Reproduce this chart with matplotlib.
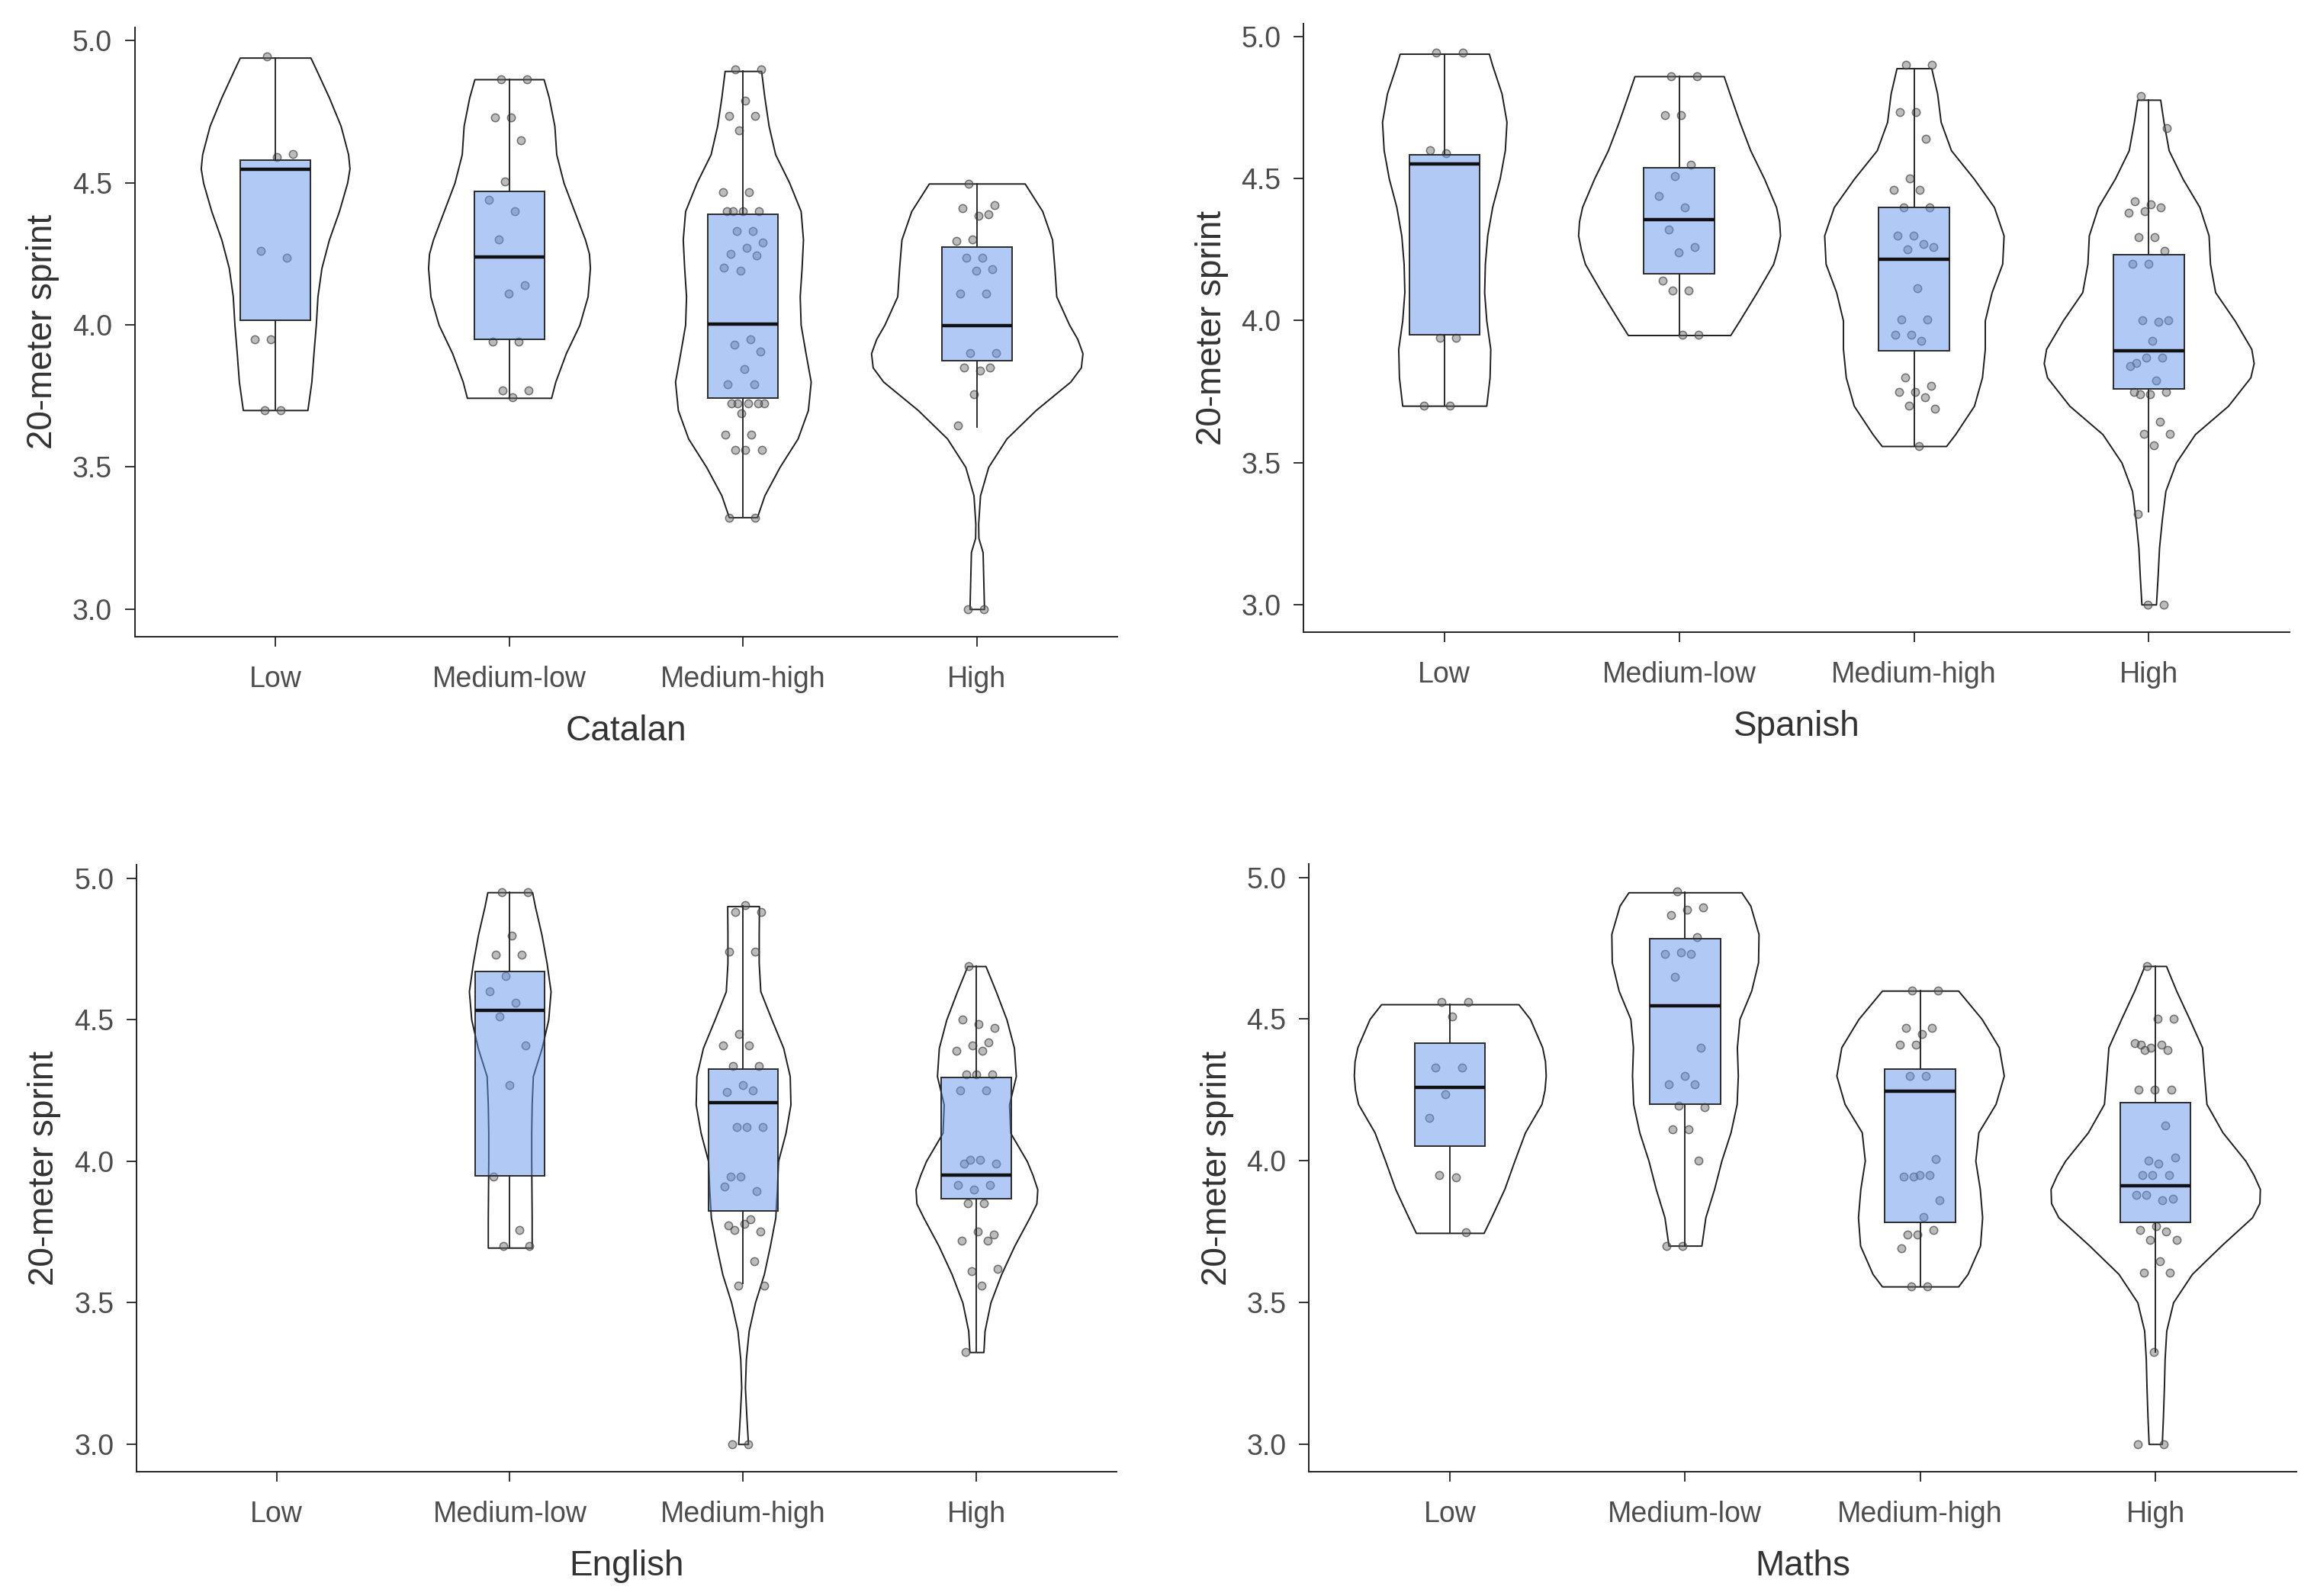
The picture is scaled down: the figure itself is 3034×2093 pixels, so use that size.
import numpy as np
import matplotlib
matplotlib.use("Agg")
import matplotlib.pyplot as plt

plt.rcParams['font.family'] = ['Liberation Sans', 'DejaVu Sans']

CATEGORIES = ["Low", "Medium-low", "Medium-high", "High"]
SUBJECTS = ["Catalan", "Spanish", "English", "Maths"]

# ---- Catalan ----
catalan_points = [
    [4.945, 4.60, 4.59, 4.26, 4.235, 3.95, 3.95, 3.70, 3.70],
    [4.864, 4.864, 4.73, 4.73, 4.65, 4.505, 4.44, 4.40, 4.30, 4.14, 4.11, 3.94, 3.94, 3.77, 3.77, 3.745],
    [4.90, 4.90, 4.79, 4.735, 4.735, 4.685, 4.466, 4.466, 4.40, 4.40, 4.40, 4.40, 4.33, 4.33, 4.29, 4.27,
     4.25, 4.245, 4.19, 4.20, 3.95, 3.93, 3.905, 3.845, 3.79, 3.79, 3.725, 3.725, 3.725, 3.725, 3.725,
     3.69, 3.614, 3.614, 3.56, 3.56, 3.56, 3.32, 3.32],
    [4.497, 4.42, 4.385, 4.41, 4.39, 4.30, 4.295, 4.235, 4.235, 4.195, 4.19, 4.11, 4.11, 3.90, 3.90,
     3.84, 3.85, 3.85, 3.755, 3.645, 3.0, 3.0],
]
# whislo, q1, median, q3, whishi
catalan_box = [
    [3.70, 4.016, 4.547, 4.58, 4.94],
    [3.743, 3.949, 4.240, 4.469, 4.864],
    [3.323, 3.743, 4.002, 4.39, 4.893],
    [3.64, 3.875, 3.998, 4.275, 4.497],
]
catalan_violin_y = [
    [3.70, 3.8, 3.9, 4.0, 4.1, 4.2, 4.3, 4.4, 4.5, 4.55, 4.6, 4.7, 4.8, 4.9, 4.94],
    [3.743, 3.8, 3.9, 4.0, 4.1, 4.2, 4.25, 4.3, 4.4, 4.5, 4.6, 4.7, 4.8, 4.864],
    [3.323, 3.4, 3.5, 3.6, 3.7, 3.8, 3.9, 4.0, 4.1, 4.2, 4.3, 4.4, 4.5, 4.6, 4.7, 4.8, 4.893],
    [3.0, 3.1, 3.2, 3.25, 3.3, 3.4, 3.5, 3.6, 3.7, 3.8, 3.85, 3.9, 3.95, 4.0, 4.1, 4.2, 4.3, 4.4, 4.497],
]
catalan_violin_w = [
    [0.138, 0.155, 0.164, 0.174, 0.181, 0.198, 0.230, 0.273, 0.308, 0.318, 0.312, 0.280, 0.230, 0.174, 0.151],
    [0.180, 0.198, 0.243, 0.301, 0.336, 0.346, 0.342, 0.325, 0.279, 0.233, 0.202, 0.194, 0.170, 0.148],
    [0.060, 0.092, 0.157, 0.234, 0.278, 0.290, 0.268, 0.247, 0.243, 0.251, 0.257, 0.247, 0.198, 0.138,
     0.110, 0.092, 0.078],
    [0.031, 0.028, 0.025, 0.007, 0.006, 0.014, 0.049, 0.127, 0.252, 0.400, 0.445, 0.452, 0.430, 0.395,
     0.340, 0.332, 0.322, 0.280, 0.205],
]

# ---- Spanish ----
spanish_points = [
    [4.945, 4.945, 4.59, 4.60, 3.94, 3.94, 3.70, 3.70],
    [4.861, 4.861, 4.725, 4.725, 4.55, 4.51, 4.44, 4.40, 4.32, 4.26, 4.24, 4.14, 4.105, 4.105, 3.95, 3.95],
    [4.90, 4.90, 4.735, 4.735, 4.64, 4.50, 4.46, 4.46, 4.40, 4.40, 4.30, 4.30, 4.27, 4.25, 4.26, 4.115,
     4.005, 4.005, 3.95, 3.95, 3.93, 3.80, 3.77, 3.75, 3.75, 3.73, 3.70, 3.69, 3.558],
    [4.79, 4.677, 4.41, 4.42, 4.40, 4.385, 4.38, 4.295, 4.295, 4.245, 4.20, 4.20, 3.995, 4.0, 4.0, 3.93,
     3.85, 3.87, 3.87, 3.84, 3.79, 3.74, 3.75, 3.74, 3.75, 3.645, 3.60, 3.60, 3.56, 3.32, 3.0, 3.0],
]
spanish_box = [
    [3.70, 3.949, 4.552, 4.584, 4.94],
    [3.949, 4.164, 4.355, 4.538, 4.861],
    [3.558, 3.893, 4.216, 4.40, 4.889],
    [3.326, 3.759, 3.895, 4.233, 4.778],
]
spanish_violin_y = [
    [3.70, 3.8, 3.9, 4.0, 4.1, 4.2, 4.3, 4.4, 4.5, 4.6, 4.7, 4.8, 4.9, 4.94],
    [3.949, 4.0, 4.1, 4.2, 4.25, 4.3, 4.35, 4.4, 4.5, 4.6, 4.7, 4.8, 4.861],
    [3.558, 3.6, 3.7, 3.8, 3.9, 4.0, 4.1, 4.2, 4.3, 4.4, 4.5, 4.6, 4.7, 4.8, 4.889],
    [3.0, 3.1, 3.2, 3.3, 3.4, 3.5, 3.6, 3.7, 3.8, 3.85, 3.9, 4.0, 4.1, 4.2, 4.3, 4.4, 4.5, 4.6, 4.7, 4.778],
]
spanish_violin_w = [
    [0.179, 0.193, 0.196, 0.179, 0.170, 0.173, 0.183, 0.204, 0.236, 0.258, 0.265, 0.244, 0.204, 0.190],
    [0.218, 0.257, 0.331, 0.401, 0.418, 0.430, 0.426, 0.413, 0.362, 0.303, 0.257, 0.215, 0.190],
    [0.137, 0.176, 0.256, 0.290, 0.302, 0.302, 0.331, 0.376, 0.382, 0.341, 0.255, 0.158, 0.114, 0.099, 0.074],
    [0.031, 0.038, 0.044, 0.056, 0.071, 0.116, 0.197, 0.338, 0.433, 0.447, 0.437, 0.366, 0.283, 0.261,
     0.255, 0.216, 0.144, 0.085, 0.063, 0.049],
]

# ---- English (no "Low" group) ----
english_points = [
    [],
    [4.95, 4.95, 4.797, 4.73, 4.73, 4.655, 4.60, 4.56, 4.51, 4.41, 4.27, 3.945, 3.756, 3.70, 3.70],
    [4.88, 4.88, 4.905, 4.74, 4.74, 4.45, 4.41, 4.41, 4.335, 4.335, 4.27, 4.245, 4.25, 4.12, 4.12, 4.12,
     3.944, 3.895, 3.944, 3.91, 3.795, 3.756, 3.75, 3.777, 3.774, 3.645, 3.56, 3.56, 3.0, 3.0],
    [4.69, 4.47, 4.485, 4.50, 4.42, 4.41, 4.39, 4.39, 4.306, 4.306, 4.306, 4.25, 4.25, 4.005, 3.99, 4.005,
     3.99, 3.915, 3.90, 3.915, 3.85, 3.85, 3.74, 3.75, 3.72, 3.72, 3.61, 3.62, 3.56, 3.325],
]
english_box = [
    None,
    [3.694, 3.948, 4.533, 4.669, 4.95],
    [3.568, 3.823, 4.206, 4.325, 4.901],
    [3.325, 3.868, 3.951, 4.295, 4.689],
]
english_violin_y = [
    [],
    [3.694, 3.8, 3.9, 4.0, 4.1, 4.2, 4.3, 4.4, 4.5, 4.6, 4.7, 4.8, 4.9, 4.95],
    [3.0, 3.1, 3.2, 3.3, 3.4, 3.5, 3.6, 3.7, 3.8, 3.9, 4.0, 4.1, 4.2, 4.3, 4.4, 4.5, 4.6, 4.7, 4.8, 4.901],
    [3.325, 3.4, 3.5, 3.6, 3.7, 3.8, 3.85, 3.9, 3.95, 4.0, 4.1, 4.2, 4.3, 4.4, 4.5, 4.6, 4.689],
]
english_violin_w = [
    [],
    [0.094, 0.094, 0.093, 0.092, 0.092, 0.094, 0.099, 0.137, 0.165, 0.175, 0.158, 0.136, 0.108, 0.096],
    [0.021, 0.014, 0.008, 0.012, 0.024, 0.051, 0.089, 0.115, 0.138, 0.145, 0.150, 0.182, 0.203, 0.200,
     0.172, 0.122, 0.074, 0.067, 0.067, 0.068],
    [0.030, 0.035, 0.060, 0.106, 0.162, 0.227, 0.257, 0.261, 0.241, 0.216, 0.145, 0.140, 0.169, 0.161,
     0.129, 0.083, 0.039],
]

# ---- Maths ----
maths_points = [
    [4.56, 4.56, 4.51, 4.33, 4.33, 4.235, 4.15, 3.94, 3.95, 3.748],
    [4.95, 4.895, 4.886, 4.868, 4.79, 4.735, 4.73, 4.73, 4.65, 4.40, 4.30, 4.27, 4.27, 4.195, 4.19, 4.11,
     4.11, 4.0, 3.70, 3.70],
    [4.60, 4.60, 4.447, 4.47, 4.47, 4.41, 4.41, 4.30, 4.30, 4.005, 3.95, 3.945, 3.95, 3.945, 3.86, 3.80,
     3.74, 3.755, 3.74, 3.69, 3.556, 3.556],
    [4.687, 4.50, 4.50, 4.41, 4.39, 4.40, 4.415, 4.41, 4.39, 4.25, 4.25, 4.25, 4.125, 4.0, 4.01, 3.99,
     3.95, 3.95, 3.95, 3.88, 3.86, 3.88, 3.866, 3.77, 3.755, 3.75, 3.72, 3.72, 3.644, 3.605, 3.605, 3.324,
     3.0, 3.0],
]
maths_box = [
    [3.745, 4.051, 4.259, 4.416, 4.552],
    [3.70, 4.20, 4.548, 4.784, 4.947],
    [3.556, 3.783, 4.245, 4.323, 4.60],
    [3.324, 3.783, 3.912, 4.205, 4.687],
]
maths_violin_y = [
    [3.745, 3.8, 3.9, 4.0, 4.1, 4.2, 4.25, 4.3, 4.35, 4.4, 4.5, 4.552],
    [3.70, 3.8, 3.9, 4.0, 4.1, 4.2, 4.3, 4.4, 4.5, 4.6, 4.7, 4.8, 4.9, 4.947],
    [3.556, 3.6, 3.7, 3.8, 3.9, 4.0, 4.1, 4.2, 4.3, 4.4, 4.5, 4.60],
    [3.0, 3.1, 3.2, 3.3, 3.4, 3.5, 3.6, 3.7, 3.8, 3.85, 3.9, 3.95, 4.0, 4.1, 4.2, 4.3, 4.4, 4.5, 4.6, 4.687],
]
maths_violin_w = [
    [0.144, 0.176, 0.232, 0.275, 0.320, 0.390, 0.403, 0.408, 0.405, 0.393, 0.341, 0.292],
    [0.070, 0.087, 0.124, 0.155, 0.194, 0.220, 0.225, 0.221, 0.232, 0.282, 0.311, 0.313, 0.278, 0.240],
    [0.162, 0.202, 0.255, 0.264, 0.254, 0.235, 0.248, 0.321, 0.356, 0.335, 0.262, 0.162],
    [0.028, 0.033, 0.037, 0.040, 0.047, 0.076, 0.156, 0.280, 0.412, 0.443, 0.445, 0.418, 0.383, 0.286,
     0.218, 0.208, 0.199, 0.145, 0.089, 0.046],
]

PANELS = {
    "Catalan": (catalan_points, catalan_box, catalan_violin_y, catalan_violin_w),
    "Spanish": (spanish_points, spanish_box, spanish_violin_y, spanish_violin_w),
    "English": (english_points, english_box, english_violin_y, english_violin_w),
    "Maths": (maths_points, maths_box, maths_violin_y, maths_violin_w),
}

RECTS = {
    "Catalan": [0.0583, 0.6010, 0.4245, 0.3820],
    "Spanish": [0.5633, 0.6039, 0.4262, 0.3815],
    "English": [0.0590, 0.0779, 0.4235, 0.3803],
    "Maths": [0.5656, 0.0779, 0.4268, 0.3808],
}

BOX_FILL = (100 / 255, 149 / 255, 237 / 255, 0.5)
LINE = "#2b2b2b"


def jitter(n, width=0.09):
    # fixed, evenly spread horizontal offsets (stands in for geom_jitter)
    k = np.arange(n)
    return ((k * 0.6180339887 + 0.31) % 1.0 - 0.5) * 2 * width


def draw_panel(ax, name):
    points, boxes, vy, vw = PANELS[name]
    pos = np.arange(1, len(CATEGORIES) + 1)

    # violins from the read-off density profiles
    vstats, vpos, vwid = [], [], []
    for i, (ys, ws) in enumerate(zip(vy, vw)):
        if len(ys) == 0:
            continue
        ys = np.array(ys)
        ws = np.array(ws)
        vstats.append(dict(coords=ys, vals=ws, mean=ys.mean(), median=np.median(ys),
                           min=ys[0], max=ys[-1]))
        vpos.append(pos[i])
        vwid.append(2 * ws.max())
    parts = ax.violin(vstats, positions=vpos, widths=vwid, showmeans=False,
                      showextrema=False, showmedians=False)
    for body in parts["bodies"]:
        body.set_facecolor("white")
        body.set_edgecolor("#1e1e1e")
        body.set_linewidth(1.4)
        body.set_alpha(1)
        body.set_zorder(1)

    # jittered points
    for i, vals in enumerate(points):
        if len(vals) == 0:
            continue
        xs = pos[i] + jitter(len(vals))
        ax.scatter(xs, vals, s=55, facecolor=(0.42, 0.42, 0.42, 0.45),
                   edgecolor=(0.25, 0.25, 0.25, 0.7), linewidth=1.1, zorder=2)

    # boxes
    bstats, bpos = [], []
    for i, b in enumerate(boxes):
        if b is None:
            continue
        bstats.append(dict(whislo=b[0], q1=b[1], med=b[2], q3=b[3], whishi=b[4], fliers=[]))
        bpos.append(pos[i])
    ax.bxp(bstats, positions=bpos, widths=0.3, patch_artist=True, showcaps=False,
           showfliers=False, manage_ticks=False, zorder=3,
           boxprops=dict(facecolor=BOX_FILL, edgecolor=LINE, linewidth=1.4),
           medianprops=dict(color="#111111", linewidth=3.2),
           whiskerprops=dict(color=LINE, linewidth=1.4))

    ax.set_xlim(0.4, 4.6)
    ax.set_ylim(2.9025, 5.0475)
    ax.set_xticks(pos)
    ax.set_xticklabels(CATEGORIES)
    ax.set_yticks([3.0, 3.5, 4.0, 4.5, 5.0])
    ax.set_yticklabels(["3.0", "3.5", "4.0", "4.5", "5.0"])
    for side in ("top", "right"):
        ax.spines[side].set_visible(False)
    for side in ("left", "bottom"):
        ax.spines[side].set_color("#222222")
        ax.spines[side].set_linewidth(1.4)
    ax.tick_params(axis="both", direction="out", length=9.4, width=1.4, color="#333333",
                   labelsize=27, labelcolor="#4d4d4d")
    ax.tick_params(axis="x", pad=18)
    ax.tick_params(axis="y", pad=12)
    ax.set_xlabel(name, fontsize=33, color="#333333", labelpad=20)
    ax.set_ylabel("20-meter sprint", fontsize=33, color="#333333", labelpad=12)


fig = plt.figure(figsize=(30.34, 20.93), dpi=100)
for name in SUBJECTS:
    ax = fig.add_axes(RECTS[name])
    draw_panel(ax, name)

fig.savefig("out.png", dpi=100, facecolor="white")
